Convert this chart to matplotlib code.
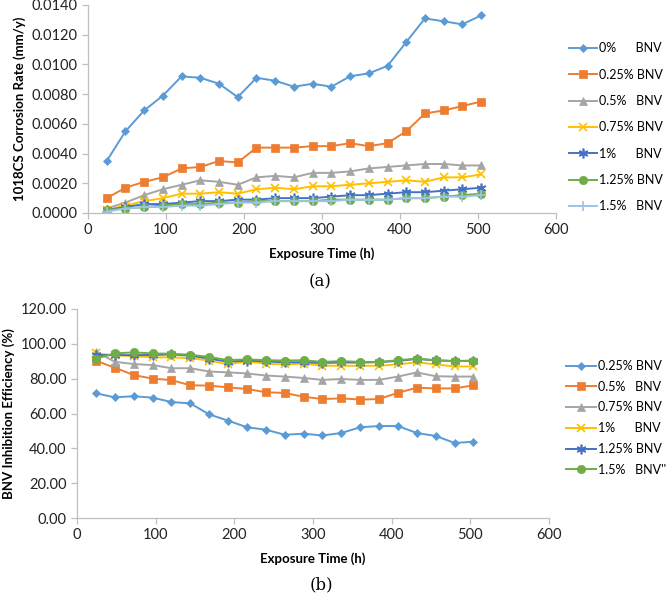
"""
Corrosion rate and BNV inhibition efficiency vs exposure time
"""

import matplotlib
matplotlib.use('Agg')
import matplotlib.pyplot as plt

plt.rcParams['font.family'] = ['Lato', 'DejaVu Sans']
plt.rcParams['font.size'] = 10

# 数据
hours = [24, 48, 72, 96, 120, 144, 168, 192, 216, 240, 264,
         288, 312, 336, 360, 384, 408, 432, 456, 480, 504]

cr_0 = [0.0035, 0.0055, 0.0069, 0.0079, 0.0092, 0.0091, 0.0087, 0.0078, 0.0091, 0.0089, 0.0085,
        0.0087, 0.0085, 0.0092, 0.0094, 0.0099, 0.0115, 0.0131, 0.0129, 0.0127, 0.0133]
cr_025 = [0.0010, 0.0017, 0.0021, 0.0024, 0.0030, 0.0031, 0.0035, 0.0034, 0.0044, 0.0044, 0.0044,
          0.0045, 0.0045, 0.0047, 0.0045, 0.0047, 0.0055, 0.0067, 0.0069, 0.0072, 0.0075]
cr_05 = [0.0003, 0.0007, 0.0012, 0.0016, 0.0019, 0.0022, 0.0021, 0.0019, 0.0024, 0.0025, 0.0024,
         0.0027, 0.0027, 0.0028, 0.0030, 0.0031, 0.0032, 0.0033, 0.0033, 0.0032, 0.0032]
cr_075 = [0.0002, 0.0005, 0.0008, 0.0010, 0.0013, 0.0013, 0.0014, 0.0013, 0.0016, 0.0017, 0.0016,
          0.0018, 0.0018, 0.0019, 0.0020, 0.0021, 0.0022, 0.0021, 0.0024, 0.0024, 0.0026]
cr_1 = [0.0002, 0.0004, 0.0006, 0.0006, 0.0007, 0.0008, 0.0008, 0.0009, 0.0009, 0.0010, 0.0010,
        0.0010, 0.0011, 0.0012, 0.0012, 0.0013, 0.0014, 0.0014, 0.0015, 0.0016, 0.0017]
cr_125 = [0.0002, 0.0003, 0.0004, 0.0005, 0.0006, 0.0006, 0.0007, 0.0007, 0.0008, 0.0008, 0.0008,
          0.0008, 0.0009, 0.0009, 0.0009, 0.0009, 0.0010, 0.0010, 0.0011, 0.0012, 0.0013]
cr_15 = [0.0001, 0.0003, 0.0004, 0.0004, 0.0005, 0.0005, 0.0006, 0.0007, 0.0007, 0.0008, 0.0008,
         0.0008, 0.0008, 0.0009, 0.0009, 0.0009, 0.0010, 0.0010, 0.0011, 0.0011, 0.0012]

ie_025 = [71.6, 69.3, 69.9, 69.1, 66.6, 65.8, 59.5, 55.9, 52.1, 50.7, 47.8,
          48.4, 47.4, 48.8, 52.1, 52.8, 52.8, 48.8, 47.1, 43.1, 43.8]
ie_05 = [90.3, 86.3, 82.1, 80.0, 79.2, 76.2, 76.0, 75.0, 74.1, 72.2, 71.8,
         69.6, 68.3, 68.7, 68.0, 68.3, 71.9, 74.8, 74.4, 74.4, 76.2]
ie_075 = [95.5, 89.7, 88.4, 87.8, 86.0, 86.0, 84.1, 83.6, 83.0, 81.8, 81.2,
          80.4, 79.3, 79.8, 79.3, 79.3, 81.2, 83.6, 81.4, 81.2, 81.2]
ie_1 = [94.5, 93.5, 92.9, 92.3, 92.2, 91.8, 90.4, 88.2, 89.9, 88.6, 88.2,
        88.6, 87.5, 87.4, 87.4, 87.4, 88.2, 89.4, 88.2, 87.0, 87.0]
ie_125 = [93.5, 93.5, 93.5, 93.6, 93.9, 93.2, 91.5, 89.7, 90.4, 89.9, 89.4,
          89.4, 89.0, 89.3, 89.2, 89.5, 90.2, 91.3, 90.5, 90.1, 90.4]
ie_15 = [91.5, 94.5, 95.1, 94.5, 94.3, 93.7, 92.5, 90.6, 91.1, 90.6, 90.4,
         90.6, 89.6, 90.1, 89.6, 89.6, 90.6, 91.5, 90.6, 90.1, 90.1]

cr_labels = ['0%      BNV', '0.25% BNV', '0.5%   BNV', '0.75% BNV',
             '1%      BNV', '1.25% BNV', '1.5%   BNV']
ie_labels = ['0.25% BNV', '0.5%   BNV', '0.75% BNV', '1%      BNV',
             '1.25% BNV', "1.5%   BNV''"]

# Excel 风格
BLUE = '#5B9BD5'
ORANGE = '#ED7D31'
GRAY = '#A5A5A5'
GOLD = '#FFC000'
DBLUE = '#4472C4'
GREEN = '#70AD47'
LBLUE = '#9DC3E6'
STAR = (6, 2, 0)

cr_styles = [(BLUE, 'D', 4), (ORANGE, 's', 6), (GRAY, '^', 6), (GOLD, 'x', 6),
             (DBLUE, STAR, 7), (GREEN, 'o', 6), (LBLUE, '+', 7)]
ie_styles = [(BLUE, 'D', 4), (ORANGE, 's', 6), (GRAY, '^', 6), (GOLD, 'x', 6),
             (DBLUE, STAR, 7), (GREEN, 'o', 6)]

W, H = 666, 594
LEG_SIZE = 9


def px_axes(fig, left, top, right, bottom):
    return fig.add_axes([left / W, (H - bottom) / H, (right - left) / W, (bottom - top) / H])


def style_axes(ax):
    for s in ['top', 'right']:
        ax.spines[s].set_visible(False)
    for s in ['left', 'bottom']:
        ax.spines[s].set_color('#BFBFBF')
        ax.spines[s].set_linewidth(0.9)
    ax.tick_params(axis='both', colors='#BFBFBF', labelcolor='#222222',
                   length=4, width=0.9, labelsize=10.5)
    ax.set_xlim(0, 600)
    ax.set_xticks(range(0, 601, 100))


def draw_series(ax, series, styles, labels):
    for ys, (c, m, ms), lab in zip(series, styles, labels):
        ax.plot(hours, ys, color=c, marker=m, markersize=ms, linewidth=1.4,
                markeredgewidth=1.2 if m in ('x', '+', STAR) else 0.5,
                markeredgecolor=c, markerfacecolor=c, label=lab)


fig = plt.figure(figsize=(W / 100, H / 100), dpi=100)

# (a) 腐蚀速率
ax1 = px_axes(fig, 88, 5, 556, 213)
draw_series(ax1, [cr_0, cr_025, cr_05, cr_075, cr_1, cr_125, cr_15], cr_styles, cr_labels)
style_axes(ax1)
ax1.set_ylim(0, 0.014)
ax1.set_yticks([i * 0.002 for i in range(8)])
ax1.set_yticklabels(['%.4f' % (i * 0.002) for i in range(8)])
ax1.set_ylabel('1018CS Corrosion Rate (mm/y)', fontsize=9.5, fontweight='bold', labelpad=4)
ax1.set_xlabel('Exposure Time (h)', fontsize=9.5, fontweight='bold', labelpad=7)
ax1.legend(loc='upper left', bbox_to_anchor=(1.018, 0.845), frameon=False, fontsize=LEG_SIZE,
           handlelength=2.2, handletextpad=0.15, labelspacing=1.15, borderaxespad=0)

# (b) 缓蚀效率
ax2 = px_axes(fig, 77, 309, 549, 518)
draw_series(ax2, [ie_025, ie_05, ie_075, ie_1, ie_125, ie_15], ie_styles, ie_labels)
style_axes(ax2)
ax2.set_ylim(0, 120)
ax2.set_yticks(range(0, 121, 20))
ax2.set_yticklabels(['%.2f' % v for v in range(0, 121, 20)])
ax2.set_ylabel('BNV Inhibition Efficiency (%)', fontsize=9.5, fontweight='bold', labelpad=4)
ax2.set_xlabel('Exposure Time (h)', fontsize=9.5, fontweight='bold', labelpad=7)
ax2.legend(loc='upper left', bbox_to_anchor=(1.025, 0.78), frameon=False, fontsize=LEG_SIZE,
           handlelength=2.4, handletextpad=0.15, labelspacing=0.7, borderaxespad=0)

fig.text(320 / W, 1 - 282 / H, '(a)', ha='center', va='center',
         fontsize=12, family='DejaVu Serif')
fig.text(321 / W, 1 - 585 / H, '(b)', ha='center', va='center',
         fontsize=12, family='DejaVu Serif')

fig.savefig('out.png', dpi=100, facecolor='white')
plt.close(fig)
